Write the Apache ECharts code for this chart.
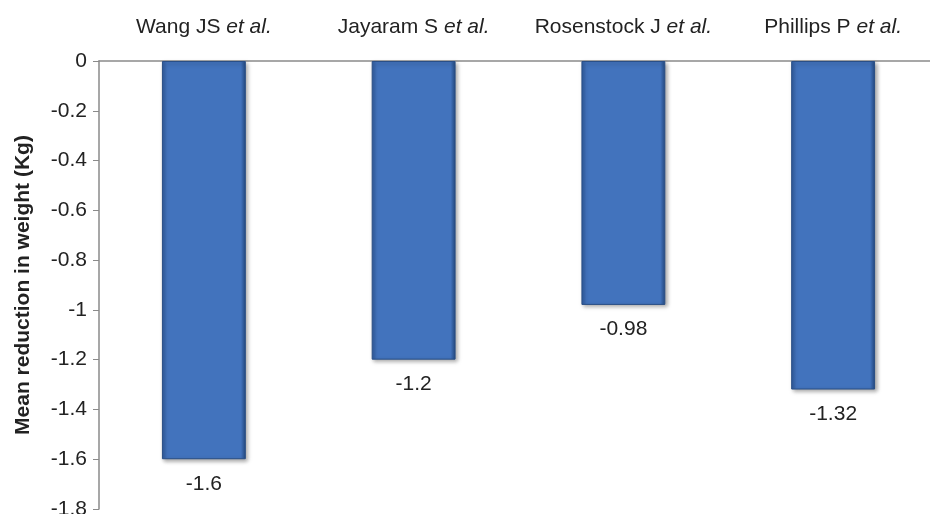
<!DOCTYPE html>
<html>
<head>
<meta charset="utf-8">
<script src="https://cdn.jsdelivr.net/npm/echarts@6/dist/echarts.min.js"></script>
<style>
  html, body { margin: 0; padding: 0; background: #fff; }
  #chart { width: 930px; height: 514px; }
</style>
</head>
<body>
<div id="chart"></div>
<script>
// study names (author part, italic suffix added in the label)
const studies = ['Wang JS', 'Jayaram S', 'Rosenstock J', 'Phillips P']
const reduction = [-1.6, -1.2, -0.98, -1.32]
const yTicks = [0, -0.2, -0.4, -0.6, -0.8, -1, -1.2, -1.4, -1.6, -1.8]

const chart = echarts.init(document.getElementById('chart'))
const font = 'Liberation Sans, Arial, sans-serif'

const option = {
  animation: false,
  grid: { left: 99, right: -8, top: 61, bottom: 5, outerBoundsMode: 'none', containLabel: false },
  xAxis: {
    type: 'category',
    position: 'top',
    data: studies,
    axisLine: { lineStyle: { color: '#8a8a8a', width: 1.5 } },
    axisTick: { inside: true, length: 6, lineStyle: { color: '#8a8a8a' } },
    axisLabel: {
      interval: 0,
      hideOverlap: false,
      margin: 23,
      fontFamily: font,
      fontSize: 21,
      color: '#222',
      formatter: v => v + ' {i|et al.}',
      rich: { i: { fontStyle: 'italic', fontFamily: font, fontSize: 21, color: '#222' } }
    }
  },
  yAxis: {
    type: 'value',
    min: -1.8,
    max: 0,
    interval: 0.2,
    name: 'Mean reduction in weight (Kg)',
    nameLocation: 'middle',
    nameGap: 65,
    nameTextStyle: { fontFamily: font, fontSize: 21, fontWeight: 'bold', color: '#222' },
    splitLine: { show: false },
    axisLine: { show: true, lineStyle: { color: '#8a8a8a', width: 1.5 } },
    axisTick: { show: true, length: 6, lineStyle: { color: '#8a8a8a' } },
    axisLabel: {
      margin: 12,
      fontFamily: font,
      fontSize: 21,
      color: '#222',
      formatter: v => yTicks.includes(Math.round(v * 10) / 10) ? String(Math.round(v * 10) / 10) : ''
    }
  },
  series: [{
    type: 'bar',
    data: reduction,
    barWidth: '40%',
    itemStyle: {
      color: new echarts.graphic.LinearGradient(0, 0, 1, 0, [
        { offset: 0, color: '#2f5a9c' },
        { offset: 0.06, color: '#4273bd' },
        { offset: 0.94, color: '#4273bd' },
        { offset: 1, color: '#24497f' }
      ]),
      borderColor: '#2a4f86',
      borderWidth: 1,
      shadowColor: 'rgba(0,0,0,0.35)',
      shadowBlur: 4,
      shadowOffsetX: 2,
      shadowOffsetY: 2
    },
    label: {
      show: true,
      position: 'bottom',
      distance: 14,
      fontFamily: font,
      fontSize: 21,
      color: '#222'
    }
  }]
}
chart.setOption(option)
</script>
</body>
</html>
